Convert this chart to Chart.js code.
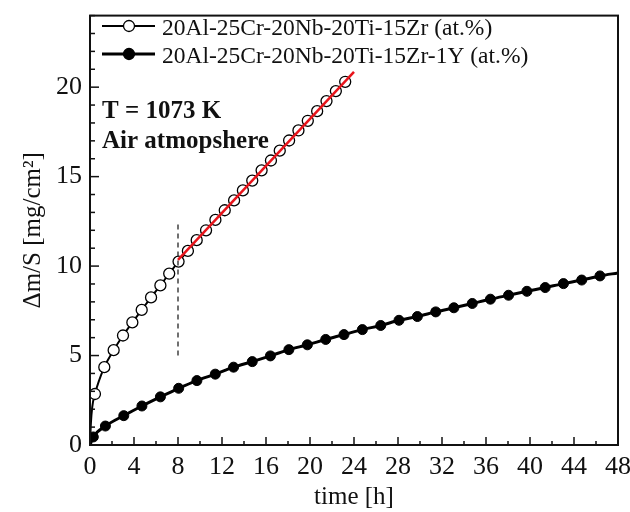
<!DOCTYPE html>
<html>
<head>
<meta charset="utf-8">
<script src="https://cdn.jsdelivr.net/npm/chart.js@4.4.1/dist/chart.umd.min.js"></script>
<style>
  html, body { margin: 0; padding: 0; background: #fff; }
</style>
</head>
<body>
<canvas id="chart" width="630" height="512"></canvas>
<script>
// values
const seriesNames = ['20Al-25Cr-20Nb-20Ti-15Zr (at.%)', '20Al-25Cr-20Nb-20Ti-15Zr-1Y (at.%)'];

// open circles (first 3 points are the line start, no marker)
const openTime = [0, 0.08, 0.2, 0.45, 1.3, 2.15, 3.0, 3.85, 4.7, 5.55, 6.4, 7.2, 8.05, 8.9, 9.7, 10.55,
  11.4, 12.25, 13.1, 13.9, 14.75, 15.6, 16.45, 17.25, 18.1, 18.95, 19.8, 20.65, 21.5, 22.35, 23.2];
const openGain = [0, 1.2, 2.1, 2.85, 4.35, 5.3, 6.12, 6.85, 7.55, 8.25, 8.92, 9.58, 10.25, 10.85, 11.45, 12.0,
  12.58, 13.12, 13.67, 14.23, 14.78, 15.35, 15.9, 16.45, 17.02, 17.58, 18.12, 18.66, 19.22, 19.78, 20.3];
const openNoMarker = 3;

// filled circles (first and last points carry no marker)
const fullTime = [0, 0.3, 1.4, 3.07, 4.72, 6.4, 8.06, 9.72, 11.39, 13.05, 14.75, 16.4, 18.08, 19.76, 21.43,
  23.09, 24.76, 26.43, 28.09, 29.76, 31.43, 33.08, 34.75, 36.4, 38.05, 39.72, 41.38, 43.04, 44.7, 46.36, 48];
const fullGain = [0, 0.45, 1.06, 1.64, 2.18, 2.69, 3.17, 3.6, 3.96, 4.35, 4.66, 4.98, 5.33, 5.6, 5.9,
  6.17, 6.45, 6.68, 6.97, 7.18, 7.44, 7.67, 7.91, 8.15, 8.37, 8.59, 8.8, 9.02, 9.22, 9.45, 9.62];

// linear fit (red) and the dashed marker at 8 h
const fitTime = [8, 24];
const fitGain = [10.35, 20.85];
const dashTime = [8, 8];
const dashGain = [5, 12.4];

const xTicks = [0, 4, 8, 12, 16, 20, 24, 28, 32, 36, 40, 44, 48];
const yTicks = [0, 5, 10, 15, 20];

const toXY = (xs, ys) => xs.map((x, i) => ({ x: x, y: ys[i] }));
const serif = 'Liberation Serif, Times New Roman, serif';

// inward ticks, frame, legend and text labels
const decor = {
  id: 'decor',
  afterDraw(chart) {
    const ctx = chart.ctx;
    const a = chart.chartArea;
    const xs = chart.scales.x, ys = chart.scales.y;
    ctx.save();
    ctx.strokeStyle = '#111';
    ctx.lineWidth = 1.5;
    for (let v = 0; v <= 48; v += 2) {
      const px = xs.getPixelForValue(v);
      const len = v % 4 === 0 ? 8 : 4;
      ctx.beginPath(); ctx.moveTo(px, a.bottom); ctx.lineTo(px, a.bottom - len); ctx.stroke();
    }
    for (let v = 0; v <= 24; v += 1) {
      const py = ys.getPixelForValue(v);
      const len = v % 5 === 0 ? 9 : 5;
      ctx.beginPath(); ctx.moveTo(a.left, py); ctx.lineTo(a.left + len, py); ctx.stroke();
    }
    ctx.lineWidth = 2;
    ctx.strokeRect(a.left, a.top, a.right - a.left, a.bottom - a.top);

    // legend
    const rows = [{ y: 26, fill: '#fff', w: 2 }, { y: 54, fill: '#000', w: 3 }];
    rows.forEach((r, i) => {
      ctx.strokeStyle = '#000';
      ctx.lineWidth = r.w;
      ctx.beginPath(); ctx.moveTo(102, r.y); ctx.lineTo(155, r.y); ctx.stroke();
      ctx.beginPath(); ctx.arc(129, r.y, 5.5, 0, Math.PI * 2);
      ctx.fillStyle = r.fill; ctx.fill();
      ctx.lineWidth = 1.3; ctx.stroke();
      ctx.fillStyle = '#111';
      ctx.font = '23.5px ' + serif;
      ctx.textBaseline = 'alphabetic';
      ctx.fillText(seriesNames[i], 162, r.y + 9);
    });

    ctx.font = 'bold 25px ' + serif;
    ctx.fillStyle = '#111';
    ctx.fillText('T = 1073 K', 102, 118);
    ctx.fillText('Air atmopshere', 102, 148);
    ctx.restore();
  }
};

new Chart(document.getElementById('chart'), {
  type: 'line',
  data: {
    datasets: [
      {
        data: toXY(fitTime, fitGain),
        borderColor: '#e8141b',
        borderWidth: 2.5,
        pointRadius: 0,
        order: 0
      },
      {
        data: toXY(dashTime, dashGain),
        borderColor: '#222',
        borderWidth: 1.3,
        borderDash: [5, 4],
        pointRadius: 0,
        order: 1
      },
      {
        data: toXY(openTime, openGain),
        borderColor: '#000',
        borderWidth: 2,
        pointRadius: ctx => (ctx.dataIndex < openNoMarker ? 0 : 5.5),
        pointBackgroundColor: '#fff',
        pointBorderColor: '#000',
        pointBorderWidth: 1.3,
        cubicInterpolationMode: 'monotone',
        order: 2
      },
      {
        data: toXY(fullTime, fullGain),
        borderColor: '#000',
        borderWidth: 3,
        pointRadius: ctx => (ctx.dataIndex === 0 || ctx.dataIndex === fullTime.length - 1 ? 0 : 5),
        pointBackgroundColor: '#000',
        pointBorderColor: '#000',
        pointBorderWidth: 1,
        cubicInterpolationMode: 'monotone',
        order: 3
      }
    ]
  },
  options: {
    responsive: false,
    animation: false,
    devicePixelRatio: 1,
    events: [],
    layout: { padding: { left: 0, right: 0, top: 6, bottom: 0 } },
    plugins: { legend: { display: false }, tooltip: { enabled: false } },
    scales: {
      x: {
        type: 'linear',
        min: 0,
        max: 48,
        grid: { display: false },
        border: { display: false },
        afterBuildTicks: s => { s.ticks = xTicks.map(v => ({ value: v })); },
        afterFit: s => { s.height = 67; s.paddingRight = 12; },
        ticks: { color: '#111', font: { family: serif, size: 26 }, padding: -1, maxRotation: 0 },
        title: { display: true, text: 'time [h]', color: '#111', font: { family: serif, size: 25 }, padding: 0 }
      },
      y: {
        type: 'linear',
        min: 0,
        max: 24,
        grid: { display: false },
        border: { display: false },
        afterBuildTicks: s => { s.ticks = yTicks.map(v => ({ value: v })); },
        afterFit: s => { s.width = 90; },
        ticks: { color: '#111', font: { family: serif, size: 26 }, padding: 0 },
        title: { display: true, text: 'Δm/S [mg/cm²]', color: '#111', font: { family: serif, size: 25 }, padding: { top: 18, bottom: 0 } }
      }
    }
  },
  plugins: [decor]
});
</script>
</body>
</html>
